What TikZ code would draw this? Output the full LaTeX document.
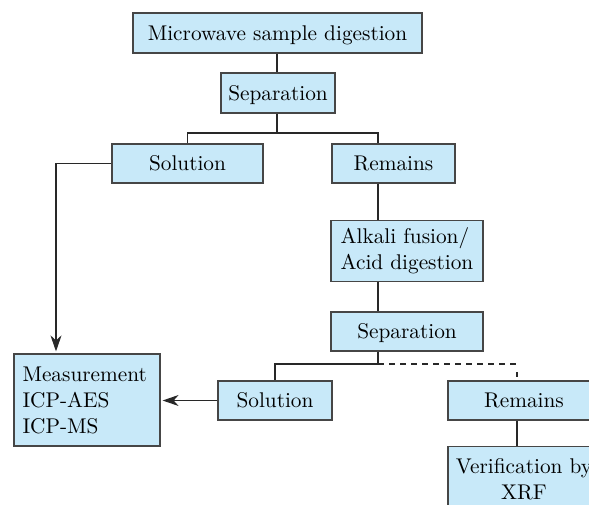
\documentclass[tikz,border=0pt]{standalone}
\usepackage{fontspec}
\newfontfamily\lmten{lmroman10-regular}[Extension=.otf]
\usetikzlibrary{arrows.meta}
\definecolor{boxfill}{RGB}{200,233,249}
\definecolor{boxline}{RGB}{70,70,70}
\definecolor{conline}{RGB}{40,40,40}
\begin{document}
\begin{tikzpicture}[x=1pt,y=-1pt,
  box/.style={draw=boxline,line width=1.2pt,fill=boxfill,inner sep=0pt,
    font=\lmten\fontsize{21.3}{26}\selectfont,text=black},
  one/.style={text height=14.5pt,text depth=0pt},
  con/.style={draw=conline,line width=1.1pt},
  arr/.style={con,-{Stealth[length=16pt,width=11pt,inset=5pt]},shorten >=2pt},
  dsh/.style={con,dash pattern=on 6pt off 5pt}]
\useasboundingbox (0,0) rectangle (589,504);
\clip (0,0) rectangle (589,504);
\node[box,one,minimum width=289pt,minimum height=40pt] (mw) at (277.5,33) {Microwave sample digestion};
\node[box,one,minimum width=114pt,minimum height=40pt] (sep1) at (278,93) {Separation};
\node[box,one,minimum width=151pt,minimum height=39pt] (sol1) at (187.5,163.5) {Solution};
\node[box,one,minimum width=123pt,minimum height=39pt] (rem1) at (393.5,163.5) {Remains};
\node[box,align=left,minimum width=152pt,minimum height=61pt] (alk) at (407,251) {Alkali fusion/\\Acid digestion};
\node[box,one,minimum width=152pt,minimum height=39pt] (sep2) at (407,331.5) {Separation};
\node[box,one,minimum width=114pt,minimum height=39pt] (sol2) at (275,400.5) {Solution};
\node[box,one,minimum width=152pt,minimum height=39pt] (rem2) at (524,400.5) {Remains};
\node[box,align=center,minimum width=152pt,minimum height=65pt] (ver) at (524,479.3) {Verification by\\XRF};
\node[box,align=left,text width=129pt,inner xsep=8.5pt,minimum height=92pt] (meas) at (87,400) {Measurement\\ICP-AES\\ICP-MS};
\coordinate (c0) at (277,0);
\coordinate (b1) at (277,133);
\coordinate (c1) at (378,0);
\coordinate (b2) at (378,364);
\coordinate (c2) at (517,0);
\coordinate (la) at (56,0);
\coordinate (d2) at (517,372);
\coordinate (d3) at (517,377);
\draw[con] (mw.south -| c0) -- (sep1.north -| c0);
\draw[con] (sep1.south -| c0) -- (b1);
\draw[con] (sol1.north) |- (b1) -| (rem1.north -| c1);
\draw[con] (rem1.south -| c1) -- (alk.north -| c1);
\draw[con] (alk.south -| c1) -- (sep2.north -| c1);
\draw[con] (sep2.south -| c1) -- (b2) -| (sol2.north);
\draw[dsh] (b2) -- (b2 -| c2);
\draw[con] (d2) -- (d3);
\draw[con] (rem2.south -| c2) -- (ver.north -| c2);
\draw[arr] (sol1.west) -| (meas.north -| la);
\draw[arr] (sol2.west) -- (meas.east |- sol2.west);
\end{tikzpicture}
\end{document}
